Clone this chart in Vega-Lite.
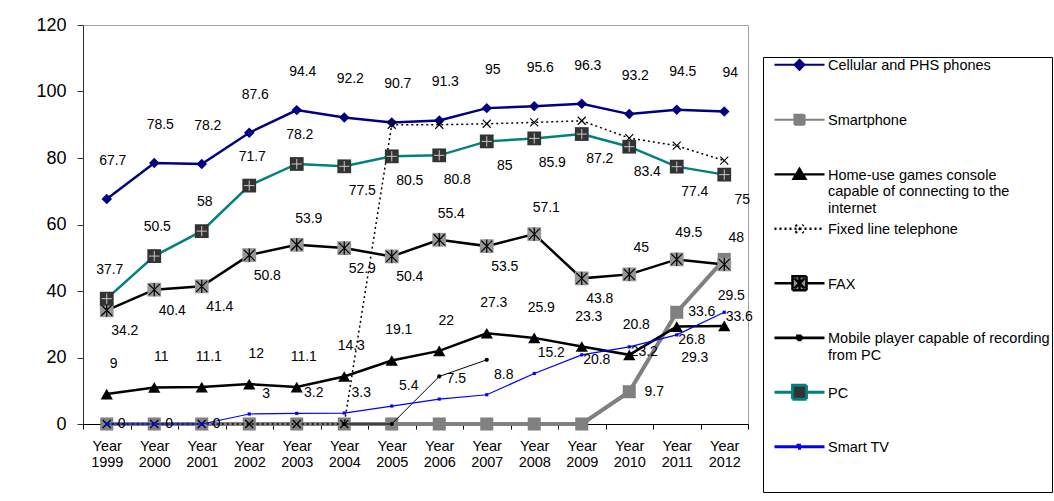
{
  "$schema": "https://vega.github.io/schema/vega-lite/v6.json",
  "width": 665,
  "height": 399,
  "autosize": {"type": "none"},
  "padding": {"left": 83, "top": 25, "right": 306, "bottom": 77},
  "background": "white",
  "config": {
    "font": "Liberation Sans",
    "view": {"stroke": "#a0a0a0", "strokeWidth": 1},
    "text": {"font": "Liberation Sans", "fontSize": 14, "color": "black", "align": "center", "baseline": "middle"}
  },
  "data": {
    "values": [
      {"year": "1999", "series": "Cellular and PHS phones", "value": 67.7},
      {"year": "2000", "series": "Cellular and PHS phones", "value": 78.5},
      {"year": "2001", "series": "Cellular and PHS phones", "value": 78.2},
      {"year": "2002", "series": "Cellular and PHS phones", "value": 87.6},
      {"year": "2003", "series": "Cellular and PHS phones", "value": 94.4},
      {"year": "2004", "series": "Cellular and PHS phones", "value": 92.2},
      {"year": "2005", "series": "Cellular and PHS phones", "value": 90.7},
      {"year": "2006", "series": "Cellular and PHS phones", "value": 91.3},
      {"year": "2007", "series": "Cellular and PHS phones", "value": 95},
      {"year": "2008", "series": "Cellular and PHS phones", "value": 95.6},
      {"year": "2009", "series": "Cellular and PHS phones", "value": 96.3},
      {"year": "2010", "series": "Cellular and PHS phones", "value": 93.2},
      {"year": "2011", "series": "Cellular and PHS phones", "value": 94.5},
      {"year": "2012", "series": "Cellular and PHS phones", "value": 94},
      {"year": "1999", "series": "Smartphone", "value": 0},
      {"year": "2000", "series": "Smartphone", "value": 0},
      {"year": "2001", "series": "Smartphone", "value": 0},
      {"year": "2002", "series": "Smartphone", "value": 0},
      {"year": "2003", "series": "Smartphone", "value": 0},
      {"year": "2004", "series": "Smartphone", "value": 0},
      {"year": "2005", "series": "Smartphone", "value": 0},
      {"year": "2006", "series": "Smartphone", "value": 0},
      {"year": "2007", "series": "Smartphone", "value": 0},
      {"year": "2008", "series": "Smartphone", "value": 0},
      {"year": "2009", "series": "Smartphone", "value": 0},
      {"year": "2010", "series": "Smartphone", "value": 9.7},
      {"year": "2011", "series": "Smartphone", "value": 33.6},
      {"year": "2012", "series": "Smartphone", "value": 49.5},
      {"year": "1999", "series": "Home-use games console capable of connecting to the internet", "value": 9},
      {"year": "2000", "series": "Home-use games console capable of connecting to the internet", "value": 11},
      {"year": "2001", "series": "Home-use games console capable of connecting to the internet", "value": 11.1},
      {"year": "2002", "series": "Home-use games console capable of connecting to the internet", "value": 12},
      {"year": "2003", "series": "Home-use games console capable of connecting to the internet", "value": 11.1},
      {"year": "2004", "series": "Home-use games console capable of connecting to the internet", "value": 14.3},
      {"year": "2005", "series": "Home-use games console capable of connecting to the internet", "value": 19.1},
      {"year": "2006", "series": "Home-use games console capable of connecting to the internet", "value": 22},
      {"year": "2007", "series": "Home-use games console capable of connecting to the internet", "value": 27.3},
      {"year": "2008", "series": "Home-use games console capable of connecting to the internet", "value": 25.9},
      {"year": "2009", "series": "Home-use games console capable of connecting to the internet", "value": 23.3},
      {"year": "2010", "series": "Home-use games console capable of connecting to the internet", "value": 20.8},
      {"year": "2011", "series": "Home-use games console capable of connecting to the internet", "value": 29.3},
      {"year": "2012", "series": "Home-use games console capable of connecting to the internet", "value": 29.5},
      {"year": "1999", "series": "Fixed line telephone", "value": 0},
      {"year": "2000", "series": "Fixed line telephone", "value": 0},
      {"year": "2001", "series": "Fixed line telephone", "value": 0},
      {"year": "2002", "series": "Fixed line telephone", "value": 0},
      {"year": "2003", "series": "Fixed line telephone", "value": 0},
      {"year": "2004", "series": "Fixed line telephone", "value": 0},
      {"year": "2005", "series": "Fixed line telephone", "value": 90.0},
      {"year": "2006", "series": "Fixed line telephone", "value": 90.0},
      {"year": "2007", "series": "Fixed line telephone", "value": 90.3},
      {"year": "2008", "series": "Fixed line telephone", "value": 90.7},
      {"year": "2009", "series": "Fixed line telephone", "value": 91.2},
      {"year": "2010", "series": "Fixed line telephone", "value": 86.0},
      {"year": "2011", "series": "Fixed line telephone", "value": 83.7},
      {"year": "2012", "series": "Fixed line telephone", "value": 79.2},
      {"year": "1999", "series": "FAX", "value": 34.2},
      {"year": "2000", "series": "FAX", "value": 40.4},
      {"year": "2001", "series": "FAX", "value": 41.4},
      {"year": "2002", "series": "FAX", "value": 50.8},
      {"year": "2003", "series": "FAX", "value": 53.9},
      {"year": "2004", "series": "FAX", "value": 52.9},
      {"year": "2005", "series": "FAX", "value": 50.4},
      {"year": "2006", "series": "FAX", "value": 55.4},
      {"year": "2007", "series": "FAX", "value": 53.5},
      {"year": "2008", "series": "FAX", "value": 57.1},
      {"year": "2009", "series": "FAX", "value": 43.8},
      {"year": "2010", "series": "FAX", "value": 45},
      {"year": "2011", "series": "FAX", "value": 49.5},
      {"year": "2012", "series": "FAX", "value": 48},
      {"year": "2004", "series": "Mobile player capable of recording from PC", "value": 0},
      {"year": "2005", "series": "Mobile player capable of recording from PC", "value": 0},
      {"year": "2006", "series": "Mobile player capable of recording from PC", "value": 14.3},
      {"year": "2007", "series": "Mobile player capable of recording from PC", "value": 19.3},
      {"year": "1999", "series": "PC", "value": 37.7},
      {"year": "2000", "series": "PC", "value": 50.5},
      {"year": "2001", "series": "PC", "value": 58},
      {"year": "2002", "series": "PC", "value": 71.7},
      {"year": "2003", "series": "PC", "value": 78.2},
      {"year": "2004", "series": "PC", "value": 77.5},
      {"year": "2005", "series": "PC", "value": 80.5},
      {"year": "2006", "series": "PC", "value": 80.8},
      {"year": "2007", "series": "PC", "value": 85},
      {"year": "2008", "series": "PC", "value": 85.9},
      {"year": "2009", "series": "PC", "value": 87.2},
      {"year": "2010", "series": "PC", "value": 83.4},
      {"year": "2011", "series": "PC", "value": 77.4},
      {"year": "2012", "series": "PC", "value": 75},
      {"year": "1999", "series": "Smart TV", "value": 0},
      {"year": "2000", "series": "Smart TV", "value": 0},
      {"year": "2001", "series": "Smart TV", "value": 0},
      {"year": "2002", "series": "Smart TV", "value": 3},
      {"year": "2003", "series": "Smart TV", "value": 3.2},
      {"year": "2004", "series": "Smart TV", "value": 3.3},
      {"year": "2005", "series": "Smart TV", "value": 5.4},
      {"year": "2006", "series": "Smart TV", "value": 7.5},
      {"year": "2007", "series": "Smart TV", "value": 8.8},
      {"year": "2008", "series": "Smart TV", "value": 15.2},
      {"year": "2009", "series": "Smart TV", "value": 20.8},
      {"year": "2010", "series": "Smart TV", "value": 23.2},
      {"year": "2011", "series": "Smart TV", "value": 26.8},
      {"year": "2012", "series": "Smart TV", "value": 33.6}
    ]
  },
  "encoding": {
    "x": {
      "field": "year", "type": "ordinal", "bandPosition": 0.5,
      "scale": {"type": "band", "paddingInner": 0, "paddingOuter": 0},
      "axis": {
        "title": null, "tickBand": "extent", "labelAngle": 0, "labelOverlap": false,
        "labelExpr": "datum.label ? ['Year', datum.label] : ''", "labelFontSize": 14.5, "labelColor": "black",
        "labelLineHeight": 16, "labelPadding": 10, "tickSize": 5,
        "domainColor": "black", "tickColor": "black", "labelFont": "Liberation Sans"
      }
    },
    "y": {
      "field": "value", "type": "quantitative",
      "scale": {"domain": [0, 120], "nice": false},
      "axis": {
        "title": null, "values": [0, 20, 40, 60, 80, 100, 120], "grid": false,
        "labelFontSize": 18, "labelColor": "black", "tickSize": 6, "labelPadding": 11,
        "domainColor": "#333333", "tickColor": "#333333", "labelFont": "Liberation Sans"
      }
    }
  },
  "layer": [
    {"transform": [{"filter": "datum.series === 'Cellular and PHS phones'"}], "mark": {"type": "line", "color": "#000080", "strokeWidth": 2.5}, "encoding": {}},
    {"transform": [{"filter": "datum.series === 'Cellular and PHS phones'"}], "mark": {"type": "point", "shape": "diamond", "filled": true, "color": "#000080", "size": 110, "opacity": 1}, "encoding": {}},

    {"transform": [{"filter": "datum.series === 'Smartphone'"}], "mark": {"type": "line", "color": "#808080", "strokeWidth": 4}, "encoding": {}},
    {"transform": [{"filter": "datum.series === 'Smartphone'"}], "mark": {"type": "point", "shape": "square", "filled": true, "color": "#808080", "size": 170, "opacity": 1}, "encoding": {}},

    {"transform": [{"filter": "datum.series === 'Home-use games console capable of connecting to the internet'"}], "mark": {"type": "line", "color": "black", "strokeWidth": 2.5}, "encoding": {}},
    {"transform": [{"filter": "datum.series === 'Home-use games console capable of connecting to the internet'"}], "mark": {"type": "point", "shape": "triangle-up", "filled": true, "color": "black", "size": 150, "opacity": 1}, "encoding": {}},

    {"transform": [{"filter": "datum.series === 'Fixed line telephone'"}], "mark": {"type": "line", "color": "black", "strokeWidth": 1.5, "strokeDash": [2, 3]}, "encoding": {}},
    {"transform": [{"filter": "datum.series === 'Fixed line telephone'"}], "mark": {"type": "point", "shape": "M-1,-1L1,1M-1,1L1,-1", "filled": false, "stroke": "black", "strokeWidth": 1.2, "size": 64, "opacity": 1}, "encoding": {}},

    {"transform": [{"filter": "datum.series === 'FAX'"}], "mark": {"type": "line", "color": "black", "strokeWidth": 2.5}, "encoding": {}},
    {"transform": [{"filter": "datum.series === 'FAX'"}], "mark": {"type": "point", "shape": "square", "filled": true, "color": "#969696", "size": 190, "opacity": 1}, "encoding": {}},
    {"transform": [{"filter": "datum.series === 'FAX'"}], "mark": {"type": "point", "shape": "M-0.8,-0.8L0.8,0.8M-0.8,0.8L0.8,-0.8M0,-0.95V0.95", "filled": false, "stroke": "black", "strokeWidth": 1.2, "size": 190, "opacity": 1}, "encoding": {}},

    {"transform": [{"filter": "datum.series === 'Mobile player capable of recording from PC'"}], "mark": {"type": "line", "color": "black", "strokeWidth": 1}, "encoding": {}},
    {"transform": [{"filter": "datum.series === 'Mobile player capable of recording from PC'"}], "mark": {"type": "point", "shape": "circle", "filled": true, "color": "black", "size": 18, "opacity": 1}, "encoding": {}},

    {"transform": [{"filter": "datum.series === 'PC'"}], "mark": {"type": "line", "color": "#008080", "strokeWidth": 2.5}, "encoding": {}},
    {"transform": [{"filter": "datum.series === 'PC'"}], "mark": {"type": "point", "shape": "square", "filled": true, "color": "#333333", "size": 190, "opacity": 1}, "encoding": {}},
    {"transform": [{"filter": "datum.series === 'PC'"}], "mark": {"type": "point", "shape": "M-0.75,0H0.75M0,-0.75V0.75", "filled": false, "stroke": "#c8c8c8", "strokeWidth": 1, "size": 190, "opacity": 1}, "encoding": {}},

    {"transform": [{"filter": "datum.series === 'Smart TV'"}], "mark": {"type": "line", "color": "#0000ff", "strokeWidth": 1.2}, "encoding": {}},
    {"transform": [{"filter": "datum.series === 'Smart TV'"}], "mark": {"type": "point", "shape": "square", "filled": true, "color": "#0000ff", "size": 10, "opacity": 1}, "encoding": {}},

    {"transform": [{"filter": "datum.series === 'Cellular and PHS phones'"}], "mark": {"type": "text", "dx": 6, "dy": -38}, "encoding": {"text": {"field": "value", "type": "quantitative"}}},
    {"transform": [{"filter": "datum.series === 'Smartphone' && (datum.year === '2010' || datum.year === '2011')"}], "mark": {"type": "text", "dx": 25, "dy": 0}, "encoding": {"text": {"field": "value", "type": "quantitative"}}},
    {"transform": [{"filter": "datum.series === 'Home-use games console capable of connecting to the internet' && datum.year !== '2011'"}], "mark": {"type": "text", "dx": 7, "dy": -30}, "encoding": {"text": {"field": "value", "type": "quantitative"}}},
    {"transform": [{"filter": "datum.series === 'Home-use games console capable of connecting to the internet' && datum.year === '2011'"}], "mark": {"type": "text", "dx": 18, "dy": 31}, "encoding": {"text": {"field": "value", "type": "quantitative"}}},
    {"transform": [{"filter": "datum.series === 'FAX' && indexof(['2003','2006','2008','2010','2011','2012'], datum.year) < 0"}], "mark": {"type": "text", "dx": 18, "dy": 21}, "encoding": {"text": {"field": "value", "type": "quantitative"}}},
    {"transform": [{"filter": "datum.series === 'FAX' && indexof(['2003','2006','2008','2010','2011','2012'], datum.year) >= 0"}], "mark": {"type": "text", "dx": 12, "dy": -26}, "encoding": {"text": {"field": "value", "type": "quantitative"}}},
    {"transform": [{"filter": "datum.series === 'PC' && datum.year < '2004'"}], "mark": {"type": "text", "dx": 3, "dy": -29}, "encoding": {"text": {"field": "value", "type": "quantitative"}}},
    {"transform": [{"filter": "datum.series === 'PC' && datum.year >= '2004'"}], "mark": {"type": "text", "dx": 18, "dy": 25}, "encoding": {"text": {"field": "value", "type": "quantitative"}}},
    {"transform": [{"filter": "datum.series === 'Smart TV' && datum.year < '2002'"}], "mark": {"type": "text", "dx": 15, "dy": 0}, "encoding": {"text": {"field": "value", "type": "quantitative"}}},
    {"transform": [{"filter": "datum.series === 'Smart TV' && datum.year >= '2002' && datum.year <= '2008'"}], "mark": {"type": "text", "dx": 17, "dy": -20}, "encoding": {"text": {"field": "value", "type": "quantitative"}}},
    {"transform": [{"filter": "datum.series === 'Smart TV' && datum.year >= '2009'"}], "mark": {"type": "text", "dx": 15, "dy": 5}, "encoding": {"text": {"field": "value", "type": "quantitative"}}},

    {
      "transform": [{"filter": "false"}],
      "mark": {"type": "point", "filled": true, "opacity": 1},
      "encoding": {
        "shape": {
          "field": "series", "type": "nominal",
          "scale": {
            "domain": ["Cellular and PHS phones", "Smartphone", "Home-use games console capable of connecting to the internet", "Fixed line telephone", "FAX", "Mobile player capable of recording from PC", "PC", "Smart TV"],
            "range": [
              "M-0.2,-0.52H4.8M2.3,-1.02L2.8,-0.52L2.3,-0.02L1.8,-0.52Z",
              "M-0.2,-0.52H4.8M1.8,-1.02H2.8V-0.02H1.8Z",
              "M-0.2,-0.52H4.8M2.3,-1.07L2.9,-0.07L1.7,-0.07Z",
              "M-0.2,-0.52H4.8M1.9,-0.92L2.7,-0.12M1.9,-0.12L2.7,-0.92",
              "M-0.2,-0.52H1.6M3.0,-0.52H4.8M1.6,-1.22H3.0V0.18H1.6ZM1.8,-1.02L2.8,-0.02M1.8,-0.02L2.8,-1.02M2.3,-1.12V0.08",
              "M-0.2,-0.52H4.8M2.1,-0.72H2.5V-0.32H2.1Z",
              "M-0.2,-0.52H1.6M3.0,-0.52H4.8M1.6,-1.22H3.0V0.18H1.6Z",
              "M-0.2,-0.52H4.8M2.15,-0.67H2.45V-0.37H2.15Z"
            ]
          },
          "legend": {
            "title": " ", "titleOrient": "bottom", "titleFontSize": 36, "titlePadding": 0,
            "orient": "none", "legendX": 680, "legendY": 32,
            "symbolSize": 400, "labelFontSize": 14.5, "labelFont": "Liberation Sans", "labelColor": "black",
            "labelBaseline": "alphabetic", "labelOffset": 40, "labelLimit": 400,
            "rowPadding": 0.5, "gridAlign": "all", "padding": 2,
            "strokeColor": "black", "fillColor": "white",
            "labelExpr": "datum.label === 'Home-use games console capable of connecting to the internet' ? ['Home-use games console', 'capable of connecting to the', 'internet'] : datum.label === 'Mobile player capable of recording from PC' ? ['Mobile player capable of recording', 'from PC'] : datum.label"
          }
        },
        "fill": {
          "field": "series", "type": "nominal",
          "scale": {
            "domain": ["Cellular and PHS phones", "Smartphone", "Home-use games console capable of connecting to the internet", "Fixed line telephone", "FAX", "Mobile player capable of recording from PC", "PC", "Smart TV"],
            "range": ["#000080", "#808080", "black", "black", "#969696", "black", "#333333", "#0000ff"]
          }
        },
        "stroke": {
          "field": "series", "type": "nominal",
          "scale": {
            "domain": ["Cellular and PHS phones", "Smartphone", "Home-use games console capable of connecting to the internet", "Fixed line telephone", "FAX", "Mobile player capable of recording from PC", "PC", "Smart TV"],
            "range": ["#000080", "#808080", "black", "black", "black", "black", "#008080", "#0000ff"]
          }
        },
        "strokeDash": {
          "field": "series", "type": "nominal",
          "scale": {
            "domain": ["Cellular and PHS phones", "Smartphone", "Home-use games console capable of connecting to the internet", "Fixed line telephone", "FAX", "Mobile player capable of recording from PC", "PC", "Smart TV"],
            "range": [[1, 0], [1, 0], [1, 0], [2, 3], [1, 0], [1, 0], [1, 0], [1, 0]]
          }
        },
        "strokeWidth": {
          "field": "series", "type": "nominal",
          "scale": {
            "domain": ["Cellular and PHS phones", "Smartphone", "Home-use games console capable of connecting to the internet", "Fixed line telephone", "FAX", "Mobile player capable of recording from PC", "PC", "Smart TV"],
            "range": [2, 3, 2, 1.5, 2, 1, 2, 1]
          }
        }
      }
    }
  ]
}
